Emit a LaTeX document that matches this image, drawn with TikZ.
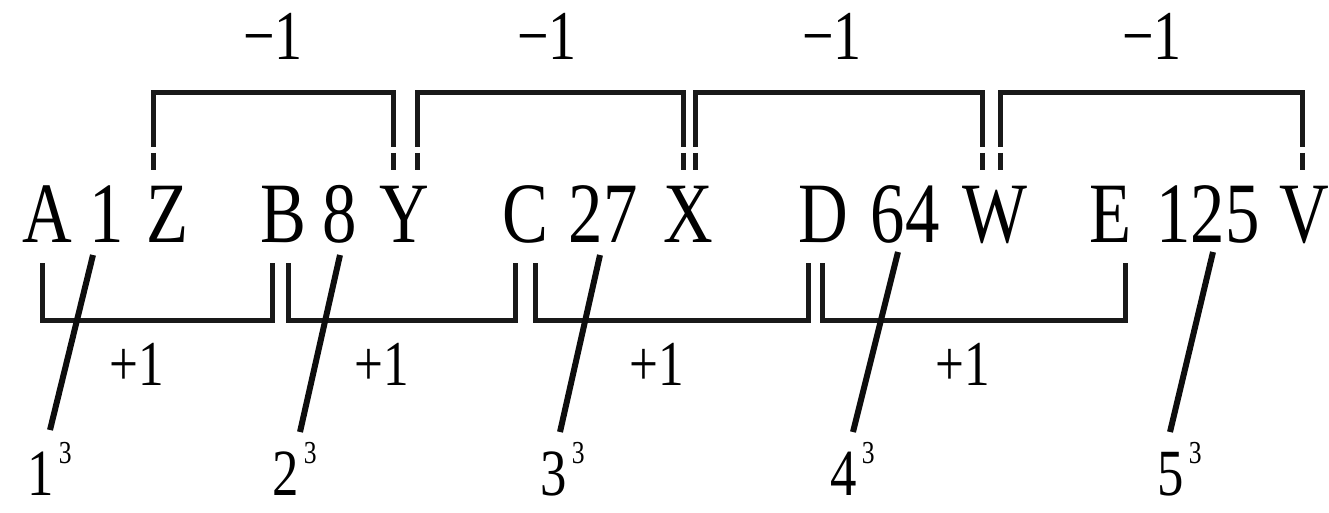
\documentclass[tikz,border=0pt]{standalone}
\usepackage{fontspec}
\setmainfont{Liberation Serif}[FakeStretch=0.8]
\begin{document}
\begin{tikzpicture}[x=1pt,y=-1pt,line width=5pt,
  big/.style={inner sep=0pt,anchor=base,font=\fontsize{86}{90}\selectfont},
  minus/.style={inner sep=0pt,anchor=base,font=\fontsize{70}{72}\selectfont},
  plus/.style={inner sep=0pt,anchor=base,font=\fontsize{64}{66}\selectfont},
  cube/.style={inner sep=0pt,anchor=base west,font=\fontsize{66}{70}\selectfont},
  bar/.style={line width=5pt,color=black!90},
  slant/.style={line width=6pt,color=black!95}]
\useasboundingbox (0,0) rectangle (1329,513);
% main row
\foreach \t/\x [count=\i] in {A/47,1/107,Z/168,B/283,8/340,Y/404,C/525,27/603,X/688,D/823,64/905,W/995,E/1110,125/1208,V/1304}
  \node[big] (m\i) at (\x,242) {\t};
% top brackets (-1)
\foreach \l/\r/\c [count=\i] in {153/393/273,417/683/547,695/982/832,1000/1302/1152}{
  \coordinate (ta\i) at (\l,147); \coordinate (tb\i) at (\l,93);
  \coordinate (tc\i) at (\r,93);  \coordinate (td\i) at (\r,147);
  \coordinate (te\i) at (\l,153); \coordinate (tf\i) at (\l,170);
  \coordinate (tg\i) at (\r,153); \coordinate (th\i) at (\r,170);
  \draw[bar] (ta\i) -- (tb\i) -- (tc\i) -- (td\i);
  \draw[bar] (te\i) -- (tf\i);
  \draw[bar] (tg\i) -- (th\i);
  \node[minus] (tm\i) at (\c,60) {−1};
}
% bottom brackets (+1)
\foreach \l/\r/\c [count=\i] in {42/272/137,288/515/382,535/808/657,822/1125/963}{
  \coordinate (ba\i) at (\l,263); \coordinate (bb\i) at (\l,320);
  \coordinate (bc\i) at (\r,320); \coordinate (bd\i) at (\r,263);
  \draw[bar] (ba\i) -- (bb\i) -- (bc\i) -- (bd\i);
  \node[plus] (bp\i) at (\c,385) {+1};
}
% slanted lines and cube labels
\foreach \xa/\ya/\xb/\yb/\n/\lx [count=\i] in {93/255/50/430/1/25,340/255/300/432/2/270,600/255/560/432/3/538,898/252/853/432/4/828,1213/252/1170/432/5/1155}{
  \coordinate (sa\i) at (\xa,\ya); \coordinate (sb\i) at (\xb,\yb);
  \draw[slant] (sa\i) -- (sb\i);
  \node[cube] (q\i) at (\lx,495) {\n\kern5pt\raisebox{32pt}{\fontsize{32}{32}\selectfont 3}};
}
\end{tikzpicture}
\end{document}
